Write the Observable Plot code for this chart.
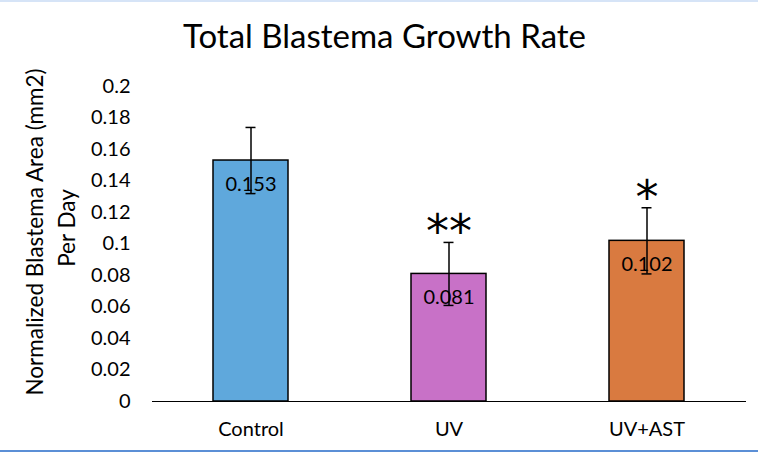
<!DOCTYPE html>
<html>
<head>
<meta charset="utf-8">
<script src="https://cdn.jsdelivr.net/npm/d3@7"></script>
<script src="https://cdn.jsdelivr.net/npm/@observablehq/plot@0.6"></script>
<style>
  html, body { margin: 0; padding: 0; background: #fff; }
  #chart { position: relative; width: 758px; height: 452px; overflow: hidden; }
  #chart .topline { position: absolute; left: 0; top: 0; width: 758px; height: 2px; background: #d6e4f7; }
  #chart .botline { position: absolute; left: 0; top: 450px; width: 758px; height: 2px; background: #5b8fd6; }
  svg { display: block; }
</style>
</head>
<body>
<div id="chart"><div class="topline"></div><div class="botline"></div></div>
<script>
const categories = ["Control", "UV", "UV+AST"];
const values = [0.153, 0.081, 0.102];
const errors = [0.021, 0.020, 0.021];
const colors = ["#5FA8DC", "#C871C7", "#D97A40"];
const significance = ["", "**", "*"];
const yTicks = [0, 0.02, 0.04, 0.06, 0.08, 0.1, 0.12, 0.14, 0.16, 0.18, 0.2];
const title = "Total Blastema Growth Rate";
const yLabel1 = "Normalized Blastema Area (mm2)";
const yLabel2 = "Per Day";

const data = categories.map((c, i) => ({
  cat: c, value: values[i], err: errors[i], color: colors[i], sig: significance[i]
}));

const font = "Lato, 'Open Sans', sans-serif";

const chart = Plot.plot({
  width: 758,
  height: 452,
  marginLeft: 152,
  marginRight: 12,
  marginTop: 86,
  marginBottom: 51,
  style: { fontFamily: font, background: "transparent", color: "#000" },
  x: { domain: categories, paddingInner: 0.62, paddingOuter: 0.31, label: null },
  y: { domain: [0, 0.2], label: null },
  marks: [
    Plot.barY(data, { x: "cat", y: "value", fill: "color", stroke: "#000", strokeWidth: 1.5 }),
    Plot.ruleY([0], { stroke: "#000", strokeWidth: 1.2 }),
    Plot.text(data, { x: "cat", y: "value", text: d => String(d.value), dy: 24, fontSize: 20, fill: "#000" }),
    Plot.ruleX(data, { x: "cat", y1: d => d.value - d.err, y2: d => d.value + d.err, stroke: "#000", strokeWidth: 1.5 }),
    Plot.tickY(data, { x: "cat", y: d => d.value + d.err, stroke: "#000", strokeWidth: 1.5, insetLeft: 32.5, insetRight: 32.5 }),
    Plot.tickY(data, { x: "cat", y: d => d.value - d.err, stroke: "#000", strokeWidth: 1.5, insetLeft: 32.5, insetRight: 32.5 }),
    Plot.text(data, { x: "cat", y: d => d.value + d.err, text: "sig", dy: 5, fontSize: 46, fill: "#000", lineAnchor: "bottom", fontFamily: "'DejaVu Sans', sans-serif" }),
    Plot.axisY({ ticks: yTicks, tickSize: 0, tickPadding: 22, tickFormat: d => String(+d.toFixed(2)), fontSize: 20, label: null }),
    Plot.axisX({ tickSize: 0, tickPadding: 20, fontSize: 20, label: null }),
    Plot.text([title], { frameAnchor: "top", lineAnchor: "middle", dx: -65, dy: -49, fontSize: 33, fill: "#000" }),
    Plot.text([yLabel1], { frameAnchor: "left", textAnchor: "middle", rotate: -90, dx: -117, dy: -12, fontSize: 22.5, fill: "#000" }),
    Plot.text([yLabel2], { frameAnchor: "left", textAnchor: "middle", rotate: -90, dx: -85, dy: -16, fontSize: 22.5, fill: "#000" })
  ]
});
document.getElementById("chart").prepend(chart);
</script>
</body>
</html>
